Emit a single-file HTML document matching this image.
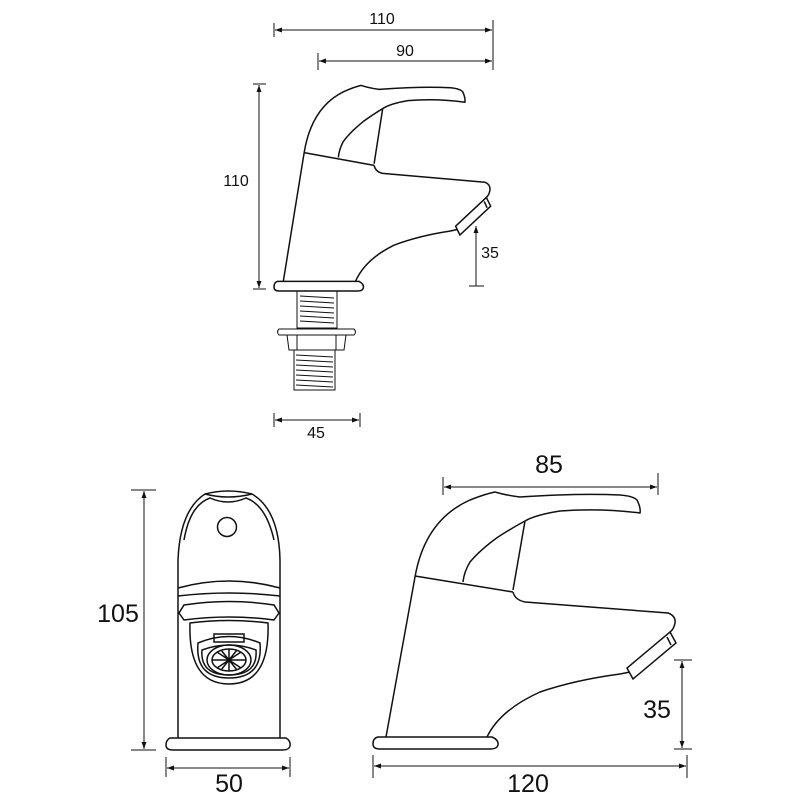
<!DOCTYPE html>
<html><head><meta charset="utf-8"><style>
html,body{margin:0;padding:0;background:#fff;width:800px;height:800px;overflow:hidden}
svg{display:block}
text{font-family:"Liberation Sans",sans-serif;fill:#111}
</style></head><body>
<svg width="800" height="800" viewBox="0 0 800 800" xmlns="http://www.w3.org/2000/svg">
<defs>
<marker id="a" viewBox="0 0 10 10" refX="10" refY="5" markerWidth="7" markerHeight="7" orient="auto-start-reverse"><path d="M0,1.5 L10,5 L0,8.5 z" fill="#111"/></marker>
<g id="side" fill="none" stroke="#111" stroke-width="1.5" vector-effect="non-scaling-stroke">
  <path vector-effect="non-scaling-stroke" d="M378,737 L492,737 Q499,740 498,745 Q497,749 490,749 L380,749 Q373,749 373,744 Q373,738 378,737 Z"/>
  <path vector-effect="non-scaling-stroke" d="M386,737 L415,577 Q425,520 470,500 Q485,494 495,492 Q505,495 520,497 Q580,493 620,495 Q633,496 637,500 Q641,508 640,513 Q600,508 560,511 Q535,515 525,521"/>
  <path vector-effect="non-scaling-stroke" d="M525,521 Q512,528 498,537 Q480,550 470,562 Q464,572 463,582"/>
  <path vector-effect="non-scaling-stroke" d="M525,521 L513,590"/>
  <path vector-effect="non-scaling-stroke" d="M415,576 L513,592"/>
  <path vector-effect="non-scaling-stroke" d="M513,592 Q515,600 525,602 L668,613 Q676,616 675,623 Q674,629 670,632"/>
  <path vector-effect="non-scaling-stroke" d="M670,632 L676,643 L633,679 L627,668 Z M667,637 L671,645 M630,672 L620,674"/>
  <path vector-effect="non-scaling-stroke" d="M620,674 Q575,680 540,692 Q500,710 487,737"/>
</g>
</defs>

<!-- TOP SMALL VIEW -->
<g stroke="#111" stroke-width="1" fill="none">
  <line x1="274" y1="23" x2="274" y2="37"/><line x1="493" y1="20" x2="493" y2="70"/>
  <line x1="275" y1="30" x2="492" y2="30" marker-start="url(#a)" marker-end="url(#a)"/>
  <line x1="318" y1="53" x2="318" y2="70"/>
  <line x1="319" y1="61" x2="492" y2="61" marker-start="url(#a)" marker-end="url(#a)"/>
  <line x1="253" y1="84" x2="266" y2="84"/><line x1="253" y1="289" x2="266" y2="289"/>
  <line x1="259" y1="85" x2="259" y2="288" marker-start="url(#a)" marker-end="url(#a)"/>
  <line x1="469" y1="286" x2="484" y2="286"/>
  <line x1="476" y1="226" x2="476" y2="286" marker-start="url(#a)"/>
  <line x1="274" y1="413" x2="274" y2="427"/><line x1="360" y1="413" x2="360" y2="427"/>
  <line x1="275" y1="420" x2="359" y2="420" marker-start="url(#a)" marker-end="url(#a)"/>
</g>
<text x="382" y="24" font-size="16" text-anchor="middle">110</text>
<text x="405" y="56" font-size="16" text-anchor="middle">90</text>
<text x="236" y="186" font-size="16" text-anchor="middle">110</text>
<text x="490" y="258" font-size="16" text-anchor="middle">35</text>
<text x="316" y="438" font-size="16" text-anchor="middle">45</text>

<g transform="translate(274,291) scale(0.715,0.8) translate(-373,-749)"><use href="#side"/></g>
<g stroke="#111" stroke-width="1" fill="none">
  <rect x="297" y="291" width="40" height="37"/>
  <path d="M300,296 L334,298 M300,301 L334,303 M300,306 L334,308 M300,311 L334,313 M300,316 L334,318 M300,321 L334,323"/>
  <path d="M279,329 L354,329 Q357,332 354,335 L279,335 Q276,332 279,329 Z"/>
  <path d="M287,335 L346,335 L344,350 L289,350 Z M297,335 L297,350 M336,335 L336,350"/>
  <rect x="294" y="350" width="41" height="40"/>
  <path d="M296,355 L333,357 M296,360 L333,362 M296,365 L333,367 M296,370 L333,372 M296,375 L333,377 M296,380 L333,382 M296,385 L333,387"/>
</g>

<!-- FRONT VIEW -->
<g stroke="#111" stroke-width="1" fill="none">
  <line x1="131" y1="490" x2="156" y2="490"/><line x1="131" y1="750" x2="156" y2="750"/>
  <line x1="144" y1="491" x2="144" y2="749" marker-start="url(#a)" marker-end="url(#a)"/>
  <line x1="166" y1="757" x2="166" y2="777"/><line x1="290" y1="757" x2="290" y2="777"/>
  <line x1="167" y1="768" x2="289" y2="768" marker-start="url(#a)" marker-end="url(#a)"/>
</g>
<text x="118" y="622" font-size="25" text-anchor="middle">105</text>
<text x="229" y="792" font-size="25" text-anchor="middle">50</text>
<g stroke="#111" stroke-width="1.5" fill="none">
  <path d="M170,738 L286,738 Q291,741 290,746 Q289,750 283,750 L173,750 Q166,750 166,745 Q166,740 170,738 Z"/>
  <path d="M178,738 L178,560 Q180,510 205,494 Q228,488 252,494 Q279,510 280,560 L280,738"/>
  <path d="M184,540 Q190,505 210,498 Q228,506 246,498 Q266,505 274,540"/>
  <path d="M205,494 Q228,500 252,494"/>
  <circle cx="227" cy="527" r="9.5"/>
  <path d="M178,588 Q229,574 280,588"/>
  <path d="M178,596 Q229,590 280,596"/>
  <path d="M184,605 Q229,598 274,605 L279,613 L274,620 Q229,614 184,620 L179,613 Z"/>
  <path d="M190,623 Q229,618 268,623 Q270,684 229,684 Q188,684 190,623 Z"/>
  <path d="M198,643 Q229,630 260,643 Q263,678 229,678 Q195,678 198,643 Z"/>
  <path d="M202,650 Q229,640 256,650 Q258,675 229,675 Q200,675 202,650 Z"/>
  <rect x="214" y="634" width="30" height="8"/>
  <ellipse cx="229" cy="660" rx="22" ry="15"/>
  <ellipse cx="229" cy="660" rx="17" ry="11"/>
  <path d="M212,660 L246,660 M229,649 L229,671 M217,652 L241,668 M241,652 L217,668 M221,650 L237,670 M237,650 L221,670"/>
</g>

<!-- SIDE BIG VIEW -->
<use href="#side"/>
<g stroke="#111" stroke-width="1" fill="none">
  <line x1="443" y1="477" x2="443" y2="495"/><line x1="658" y1="473" x2="658" y2="495"/>
  <line x1="444" y1="487" x2="657" y2="487" marker-start="url(#a)" marker-end="url(#a)"/>
  <line x1="373" y1="755" x2="373" y2="778"/><line x1="687" y1="755" x2="687" y2="778"/>
  <line x1="374" y1="766" x2="686" y2="766" marker-start="url(#a)" marker-end="url(#a)"/>
  <line x1="674" y1="660" x2="692" y2="660"/><line x1="674" y1="749" x2="692" y2="749"/>
  <line x1="682" y1="661" x2="682" y2="748" marker-start="url(#a)" marker-end="url(#a)"/>
</g>
<text x="549" y="473" font-size="25" text-anchor="middle">85</text>
<text x="528" y="792" font-size="25" text-anchor="middle">120</text>
<text x="657" y="718" font-size="25" text-anchor="middle">35</text>
</svg>
</body></html>
